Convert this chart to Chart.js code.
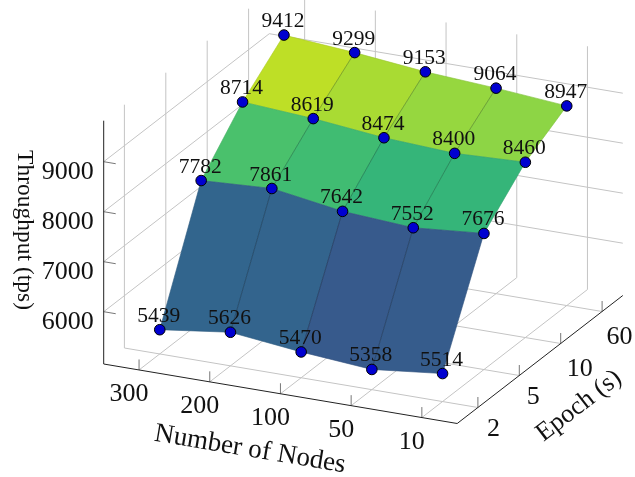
<!DOCTYPE html>
<html>
<head>
<meta charset="utf-8">
<style>html,body{margin:0;padding:0;background:#fff}canvas{display:block}</style>
<script src="https://cdn.jsdelivr.net/npm/chart.js@4"></script>
</head>
<body>
<canvas id="c" width="635" height="477" style="width:635px;height:477px"></canvas>
<script>
const nodeLabels = ['300', '200', '100', '50', '10'];
const epochLabels = ['2', '5', '10', '60'];
const epoch2 = [5439, 5626, 5470, 5358, 5514];
const epoch5 = [7782, 7861, 7642, 7552, 7676];
const epoch10 = [8714, 8619, 8474, 8400, 8460];
const epoch60 = [9412, 9299, 9153, 9064, 8947];
const zTicks = [6000, 7000, 8000, 9000];
const rows = [epoch2, epoch5, epoch10, epoch60];

const Z_MIN = 4954, Z_MAX = 9820, C_MIN = 5358, C_MAX = 9412;
const VIRIDIS = ['#440154','#482475','#414487','#355f8d','#2a788e','#21918c','#22a884','#44bf70','#7ad151','#bddf26','#fde725'];

// 3D box -> 2D view coordinates. i: node index, j: epoch index, z: throughput
function project(i, j, z) {
  const a = i + 0.5, b = j + 0.5;
  return {
    x: 103.7 + 70.7 * a + 41.4 * b,
    y: 364 + 11.9 * a - 32 * b - 0.05 * (z - Z_MIN)
  };
}
function hex(c){return [1,3,5].map(k=>parseInt(c.substr(k,2),16));}
function viridis(v) {
  const t = Math.max(0, Math.min(1, (v - C_MIN) / (C_MAX - C_MIN))) * 10;
  const k = Math.min(9, Math.floor(t)), f = t - k;
  const p = hex(VIRIDIS[k]), q = hex(VIRIDIS[k + 1]);
  return p.map((u, n) => u + (q[n] - u) * f);
}
const rgb = (c, m = 1) => `rgb(${c.map(u => Math.round(u * m)).join(',')})`;

const FONT = '"Liberation Serif", serif';
const I0 = -0.5, I1 = 4.5, J0 = -0.5, J1 = 3.5;

const box3d = {
  id: 'box3d',
  beforeDatasetsDraw(chart) {
    const { ctx, scales: { x: sx, y: sy } } = chart;
    const px = (i, j, z) => { const p = project(i, j, z); return [sx.getPixelForValue(p.x), sy.getPixelForValue(p.y)]; };
    const line = (pts, color, w) => {
      ctx.beginPath();
      pts.forEach((p, n) => n ? ctx.lineTo(p[0], p[1]) : ctx.moveTo(p[0], p[1]));
      ctx.strokeStyle = color; ctx.lineWidth = w; ctx.stroke();
    };
    ctx.save();
    const grid = '#c4c4c4';
    // grid on the two back walls and the floor
    zTicks.forEach(z => line([px(I0, J0, z), px(I0, J1, z), px(I1, J1, z)], grid, 1));
    nodeLabels.forEach((_, i) => {
      line([px(i, J0, Z_MIN), px(i, J1, Z_MIN), px(i, J1, Z_MAX)], grid, 1);
    });
    epochLabels.forEach((_, j) => {
      line([px(I1, j, Z_MIN), px(I0, j, Z_MIN), px(I0, j, Z_MAX)], grid, 1);
    });
    // ticks
    const tick = '#777';
    zTicks.forEach(z => line([px(I0, J0, z), px(I0 + 0.17, J0, z)], tick, 1));
    nodeLabels.forEach((_, i) => line([px(i, J0, Z_MIN), px(i, J0, Z_MIN + 210)], tick, 1));
    epochLabels.forEach((_, j) => line([px(I1, j, Z_MIN), px(I1, j, Z_MIN + 210)], tick, 1));
    // axes
    line([px(I0, J0, Z_MAX), px(I0, J0, Z_MIN), px(I1, J0, Z_MIN), px(I1, J1, Z_MIN)], '#222', 1);
    // faceted surface, back to front
    for (let j = rows.length - 2; j >= 0; j--) {
      for (let i = 0; i < nodeLabels.length - 1; i++) {
        const corners = [[i, j], [i + 1, j], [i + 1, j + 1], [i, j + 1]];
        const zs = corners.map(c => rows[c[1]][c[0]]);
        const col = viridis(zs.reduce((a, b) => a + b, 0) / 4);
        const pts = corners.map((c, n) => px(c[0], c[1], zs[n]));
        ctx.beginPath();
        pts.forEach((p, n) => n ? ctx.lineTo(p[0], p[1]) : ctx.moveTo(p[0], p[1]));
        ctx.closePath();
        ctx.fillStyle = rgb(col); ctx.fill();
        ctx.strokeStyle = rgb(col, 0.9); ctx.lineWidth = 0.6; ctx.lineJoin = 'round'; ctx.stroke();
        if (i > 0) line([pts[0], pts[3]], rgb(col, 0.7), 0.7);
      }
    }
    ctx.restore();
  },
  afterDatasetsDraw(chart) {
    const { ctx, scales: { x: sx, y: sy } } = chart;
    const px = (i, j, z) => { const p = project(i, j, z); return [sx.getPixelForValue(p.x), sy.getPixelForValue(p.y)]; };
    ctx.save();
    ctx.fillStyle = '#111';
    ctx.textAlign = 'center';
    ctx.textBaseline = 'alphabetic';
    // value labels
    ctx.font = '21.5px ' + FONT;
    rows.forEach((r, j) => r.forEach((v, i) => {
      const p = px(i, j, v);
      ctx.fillText(String(v), p[0] - 1, p[1] - 8);
    }));
    // tick labels
    ctx.font = '26px ' + FONT;
    nodeLabels.forEach((t, i) => {
      const p = px(i, J0, Z_MIN);
      ctx.fillText(t, p[0] - 10, p[1] + 31);
    });
    epochLabels.forEach((t, j) => {
      const p = px(I1, j, Z_MIN);
      ctx.textAlign = 'left';
      ctx.fillText(t, p[0] + 9 - j * 1.5, p[1] + (j < 2 ? 28 : 32));
    });
    ctx.textAlign = 'right';
    zTicks.forEach(z => {
      const p = px(I0, J0, z);
      ctx.fillText(String(z), p[0] - 10, p[1] + 17);
    });
    // axis titles
    const title = (s, x, y, deg, size) => {
      ctx.save();
      ctx.font = size + 'px ' + FONT;
      ctx.translate(x, y); ctx.rotate(deg * Math.PI / 180);
      ctx.textAlign = 'center'; ctx.textBaseline = 'middle';
      ctx.fillText(s, 0, 0);
      ctx.restore();
    };
    title('Number of Nodes', 250, 449.5, 9.55, 27);
    title('Epoch (s)', 579, 406, -37.7, 26);
    title('Throughput (tps)', 24, 230, 90, 23.5);
    ctx.restore();
  }
};

const colors = { point: '#0000d0', edge: '#000' };
const datasets = rows.map((r, j) => ({
  label: 'Epoch ' + epochLabels[j] + ' s',
  data: r.map((v, i) => project(i, j, v)),
  showLine: false,
  pointRadius: 5.3,
  pointBackgroundColor: colors.point,
  pointBorderColor: colors.edge,
  pointBorderWidth: 1,
  pointHoverRadius: 5.3
}));

new Chart(document.getElementById('c'), {
  type: 'scatter',
  data: { datasets },
  plugins: [box3d],
  options: {
    responsive: false,
    animation: false,
    devicePixelRatio: 1,
    layout: { padding: 0, autoPadding: false },
    plugins: { legend: { display: false }, tooltip: { enabled: false }, title: { display: false } },
    scales: {
      x: { type: 'linear', min: 0, max: 635, display: false },
      y: { type: 'linear', min: 0, max: 477, reverse: true, display: false }
    }
  }
});
</script>
</body>
</html>
